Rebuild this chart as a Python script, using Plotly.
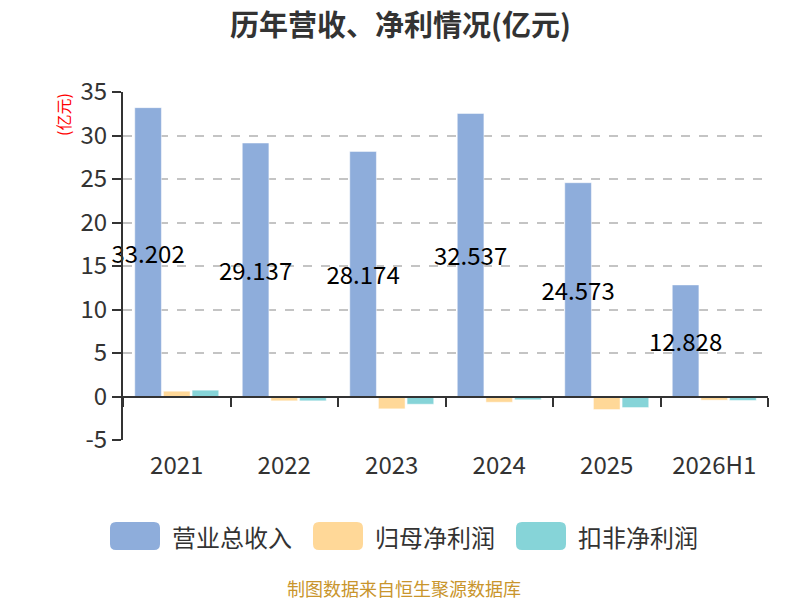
import plotly.graph_objects as go

# 历年营收、净利情况 (亿元)
years = ['2021', '2022', '2023', '2024', '2025', '2026H1']
revenue = [33.202, 29.137, 28.174, 32.537, 24.573, 12.828]
net_profit = [0.61, -0.50, -1.42, -0.66, -1.50, -0.42]
net_profit_deducted = [0.73, -0.50, -0.89, -0.38, -1.27, -0.46]

series_names = ['营业总收入', '归母净利润', '扣非净利润']
colors = ['#8EADDB', '#FFD898', '#86D4D8']

y_ticks = [-5, 0, 5, 10, 15, 20, 25, 30, 35]
y_tick_text = ['-5', '0', '5', '10', '15', '20', '25', '30', '35']

FONT = 'Noto Sans CJK SC'

# plot area in page pixels (page has an 8px body margin)
PL, PR, PT, PB = 123, 768, 92, 440


def px(x):
    return (x - PL) / (PR - PL)


def py(y):
    return (PB - y) / (PB - PT)


def rounded_rect(x0, y0, x1, y1, r=6):
    # path in paper coords, corners rounded by r pixels
    a0, a1, b0, b1 = px(x0), px(x1), py(y1), py(y0)
    rx, ry = r / (PR - PL), r / (PB - PT)
    return (f'M {a0 + rx} {b0} L {a1 - rx} {b0} Q {a1} {b0} {a1} {b0 + ry} '
            f'L {a1} {b1 - ry} Q {a1} {b1} {a1 - rx} {b1} L {a0 + rx} {b1} '
            f'Q {a0} {b1} {a0} {b1 - ry} L {a0} {b0 + ry} Q {a0} {b0} {a0 + rx} {b0} Z')


fig = go.Figure()
fig.add_trace(go.Bar(x=years, y=revenue, name=series_names[0],
                     marker=dict(color=colors[0], line=dict(color='rgba(255,255,255,0.5)', width=1)),
                     text=[f'{v:.3f}' for v in revenue],
                     textposition='inside', insidetextanchor='middle', textangle=0,
                     constraintext='none', cliponaxis=False,
                     insidetextfont=dict(family=FONT, size=24, color='#000000'),
                     showlegend=False))
fig.add_trace(go.Bar(x=years, y=net_profit, name=series_names[1],
                     marker=dict(color=colors[1], line=dict(color='rgba(255,255,255,0.5)', width=1)),
                     showlegend=False))
fig.add_trace(go.Bar(x=years, y=net_profit_deducted, name=series_names[2],
                     marker=dict(color=colors[2], line=dict(color='rgba(255,255,255,0.5)', width=1)),
                     showlegend=False))

fig.update_layout(
    width=800, height=600,
    paper_bgcolor='white', plot_bgcolor='white',
    margin=dict(l=PL - 8, r=800 - (PR - 8), t=PT - 8, b=600 - (PB - 8)),
    barmode='group', bargap=0.2, bargroupgap=0.07,
    font=dict(family=FONT, color='#333333'),
)

fig.update_xaxes(
    anchor='free', position=0.125,
    showline=True, linecolor='#333333', linewidth=2,
    ticks='outside', tickson='boundaries', ticklen=9, tickwidth=2, tickcolor='#333333',
    ticklabelstandoff=48,
    tickfont=dict(size=24, color='#333333'),
    showgrid=False,
)
fig.update_yaxes(
    range=[-5, 35], tickvals=y_ticks, ticktext=y_tick_text,
    showline=True, linecolor='#333333', linewidth=2,
    ticks='outside', ticklen=9, tickwidth=2, tickcolor='#333333',
    tickfont=dict(size=24, color='#333333'),
    showgrid=True, gridcolor='#C4C4C4', griddash='dash', gridwidth=1.5,
    zeroline=False,
)

# title
fig.add_annotation(text='<b>历年营收、净利情况(亿元)</b>', xref='paper', yref='paper',
                   x=px(400), y=py(23), xanchor='center', yanchor='middle', showarrow=False,
                   font=dict(size=29, color='#333333'))

# y axis unit
fig.add_annotation(text='(亿元)', xref='paper', yref='paper', x=px(63), y=py(115),
                   xanchor='center', yanchor='middle',
                   textangle=-90, showarrow=False, font=dict(size=16, color='#FF0000'))

# legend drawn as rounded swatches
legend_x = [110, 313, 516]
for name, color, x0 in zip(series_names, colors, legend_x):
    x1, y0, y1 = x0 + 50, 522, 550
    fig.add_shape(type='path', xref='paper', yref='paper',
                  path=rounded_rect(x0, y0, x1, y1),
                  fillcolor=color, line=dict(color=color, width=0), layer='above')
    fig.add_annotation(text=name, xref='paper', yref='paper', x=px(x1 + 10),
                       y=py(536), xanchor='left', yanchor='middle',
                       showarrow=False, font=dict(size=24, color='#333333'))

fig.add_annotation(text='制图数据来自恒生聚源数据库', xref='paper', yref='paper',
                   x=px(404), y=py(588), xanchor='center', yanchor='middle', showarrow=False,
                   font=dict(size=18, color='#C9952C'))

fig.write_html('out.html')
